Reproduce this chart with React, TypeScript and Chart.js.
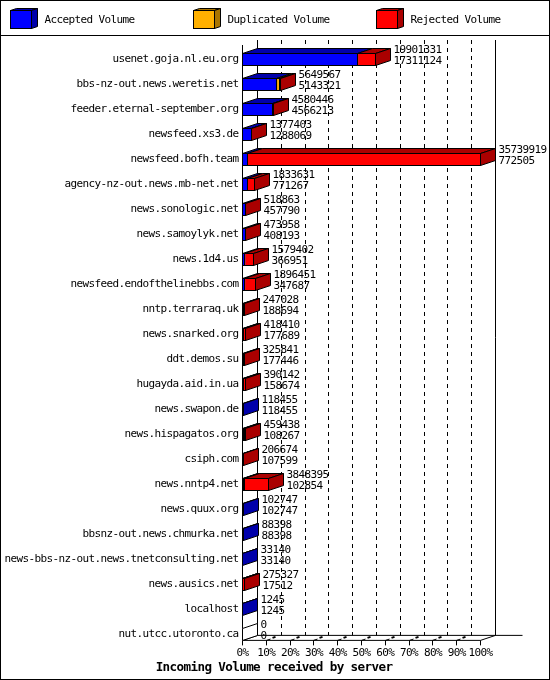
import { useRef, useEffect } from 'react';
import Chart from 'chart.js/auto';

const servers = [
  'usenet.goja.nl.eu.org', 'bbs-nz-out.news.weretis.net', 'feeder.eternal-september.org', 'newsfeed.xs3.de',
  'newsfeed.bofh.team', 'agency-nz-out.news.mb-net.net', 'news.sonologic.net', 'news.samoylyk.net',
  'news.1d4.us', 'newsfeed.endofthelinebbs.com', 'nntp.terraraq.uk', 'news.snarked.org',
  'ddt.demos.su', 'hugayda.aid.in.ua', 'news.swapon.de', 'news.hispagatos.org',
  'csiph.com', 'news.nntp4.net', 'news.quux.org', 'bbsnz-out.news.chmurka.net',
  'news-bbs-nz-out.news.tnetconsulting.net', 'news.ausics.net', 'localhost', 'nut.utcc.utoronto.ca',
];
const totalVolume = [
  19901331, 5649567, 4580446, 1377403, 35739919, 1833631, 518863, 473958,
  1579402, 1896451, 247028, 418410, 325841, 390142, 118455, 459438,
  206674, 3848395, 102747, 88398, 33140, 275327, 1245, 0,
];
const acceptedVolume = [
  17311124, 5143321, 4566213, 1288069, 772505, 771267, 457790, 408193,
  366951, 347687, 188694, 177689, 177446, 158674, 118455, 108267,
  107599, 102854, 102747, 88398, 33140, 17512, 1245, 0,
];
const duplicatedVolume = [
  0, 380000, 0, 0, 0, 0, 0, 0,
  0, 0, 0, 0, 0, 0, 0, 130000,
  0, 140000, 0, 0, 0, 0, 0, 0,
];
const rejectedVolume = [
  2590207, 126246, 14233, 89334, 34967414, 1062364, 61073, 65765,
  1212451, 1548764, 58334, 240721, 148395, 231468, 0, 221171,
  99075, 3605541, 0, 0, 0, 257815, 0, 0,
];

const FONT = '"DejaVu Sans Mono", monospace';
const FRONT = ['#0000ff', '#ffb000', '#ff0000'];
const DARK = ['#0000aa', '#aa7500', '#aa0000'];
const DEPTH_X = 15;
const DEPTH_Y = 5;

// crisp 1px lines
const snap = (v: number) => Math.floor(v) + 0.5;

function poly(ctx: CanvasRenderingContext2D, pts: number[][], fill: string) {
  ctx.beginPath();
  pts.forEach((p, i) => (i ? ctx.lineTo(p[0], p[1]) : ctx.moveTo(p[0], p[1])));
  ctx.closePath();
  ctx.fillStyle = fill;
  ctx.fill();
  ctx.stroke();
}

function line(ctx: CanvasRenderingContext2D, x0: number, y0: number, x1: number, y1: number) {
  ctx.beginPath();
  ctx.moveTo(x0, y0);
  ctx.lineTo(x1, y1);
  ctx.stroke();
}

const volumePlugin = {
  id: 'volume3d',
  afterLayout(chart: any) {
    // the right padding makes room for the 3D depth, the title still centres on the page
    chart.titleBlock.right = 548;
  },
  beforeDraw(chart: any) {
    // the original font is tall and narrow, 6px a character
    chart.ctx.letterSpacing = '-0.62px';
  },
  beforeDatasetsDraw(chart: any) {
    const { ctx, chartArea, scales } = chart;
    const floor = chartArea.bottom - 6.5;
    const left = chartArea.left;
    const right = chartArea.right;
    ctx.save();
    ctx.strokeStyle = '#000';
    ctx.lineWidth = 1;

    // page frame and legend rule
    ctx.strokeRect(0.5, 0.5, 549, 679);
    line(ctx, 0, 35.5, 550, 35.5);

    // legend
    const boxes = [10.5, 193.5, 376.5];
    const texts = [44.5, 227.5, 410.5];
    chart.data.datasets.forEach((ds: any, i: number) => {
      const x = boxes[i];
      poly(ctx, [[x, 10.5], [x + 6, 8.5], [x + 27, 8.5], [x + 21, 10.5]], DARK[i]);
      poly(ctx, [[x + 21, 10.5], [x + 27, 8.5], [x + 27, 26.5], [x + 21, 28.5]], DARK[i]);
      ctx.fillStyle = FRONT[i];
      ctx.fillRect(x, 10.5, 21, 18);
      ctx.strokeRect(x, 10.5, 21, 18);
      ctx.fillStyle = '#000';
      ctx.font = '11px ' + FONT;
      ctx.textAlign = 'left';
      ctx.textBaseline = 'middle';
      ctx.fillText(ds.label, texts[i], 20.5);
    });

    // back wall grid
    ctx.setLineDash([4, 4]);
    scales.x.ticks.forEach((t: any, i: number) => {
      if (i === 0 || i === scales.x.ticks.length - 1) return;
      const x = snap(scales.x.getPixelForValue(t.value) + DEPTH_X);
      line(ctx, x, 40, x, floor - DEPTH_Y);
    });
    ctx.setLineDash([]);

    // walls and floor
    line(ctx, left, 45, left, floor);
    line(ctx, left + DEPTH_X, 40, left + DEPTH_X, floor - DEPTH_Y);
    line(ctx, right + DEPTH_X, 40, right + DEPTH_X, floor - DEPTH_Y);
    line(ctx, left + DEPTH_X, floor - DEPTH_Y, 522.5, floor - DEPTH_Y);
    line(ctx, left, floor, right, floor);
    line(ctx, left, floor, left + DEPTH_X, floor - DEPTH_Y);
    line(ctx, right, floor, right + DEPTH_X, floor - DEPTH_Y);

    // ticks under the floor, each with its short stub towards the back
    scales.x.ticks.forEach((t: any) => {
      const x = snap(scales.x.getPixelForValue(t.value));
      line(ctx, x, floor, x, floor + 5);
      if (t.value > 0 && t.value < scales.x.max * 0.99) {
        line(ctx, x, floor, x + 4, floor - 1.3);
        ctx.lineWidth = 2;
        line(ctx, x + 6, floor - 2.5, x + 9, floor - 3.5);
        ctx.lineWidth = 1;
      }
    });
    ctx.restore();
  },
  afterDatasetsDraw(chart: any) {
    const { ctx } = chart;
    const metas = [0, 1, 2].map((i) => chart.getDatasetMeta(i).data);
    ctx.save();
    ctx.strokeStyle = '#000';
    ctx.lineWidth = 1;
    servers.forEach((_, row) => {
      let lastIdx = -1;
      let top = 0;
      let bottom = 0;
      let endX = 0;
      metas.forEach((bars: any[], i: number) => {
        const el = bars[row];
        top = snap(el.y - el.height / 2);
        bottom = top + 12;
        const x0 = snap(Math.min(el.base, el.x));
        const x1 = snap(Math.max(el.base, el.x));
        endX = x1;
        const value = chart.data.datasets[i].data[row];
        if (!value) return;
        lastIdx = i;
        poly(ctx, [[x0, top], [x0 + DEPTH_X, top - DEPTH_Y], [x1 + DEPTH_X, top - DEPTH_Y], [x1, top]], DARK[i]);
        ctx.strokeRect(x0, top, x1 - x0, bottom - top);
      });
      poly(
        ctx,
        [[endX, top], [endX + DEPTH_X, top - DEPTH_Y], [endX + DEPTH_X, bottom - DEPTH_Y], [endX, bottom]],
        lastIdx < 0 ? '#fff' : DARK[lastIdx],
      );
      ctx.fillStyle = '#000';
      ctx.font = '11px ' + FONT;
      ctx.textAlign = 'left';
      ctx.textBaseline = 'middle';
      const cy = top + 6;
      ctx.fillText(String(totalVolume[row]), endX + DEPTH_X + 3, cy - 9);
      ctx.fillText(String(acceptedVolume[row]), endX + DEPTH_X + 3, cy + 2);
    });
    ctx.restore();
  },
};

export default function App() {
  const chartRef = useRef<HTMLCanvasElement | null>(null);

  useEffect(() => {
    if (!chartRef.current) return;
    const maxVolume = Math.max(...totalVolume);

    const chart = new Chart(chartRef.current, {
      type: 'bar',
      data: {
        labels: servers,
        datasets: [
          { label: 'Accepted Volume', data: acceptedVolume, backgroundColor: FRONT[0] },
          { label: 'Duplicated Volume', data: duplicatedVolume, backgroundColor: FRONT[1] },
          { label: 'Rejected Volume', data: rejectedVolume, backgroundColor: FRONT[2] },
        ],
      },
      options: {
        indexAxis: 'y',
        responsive: false,
        animation: false,
        devicePixelRatio: 1,
        layout: { padding: { top: 47, right: 69.5, left: 0, bottom: 0 } },
        datasets: { bar: { barThickness: 12, borderWidth: 0 } },
        plugins: {
          legend: { display: false },
          tooltip: { enabled: false },
          title: {
            display: true,
            position: 'bottom',
            text: 'Incoming Volume received by server',
            color: '#000',
            font: { family: FONT, size: 12.6, weight: 'bold' },
            padding: { top: 0, bottom: 5 },
          },
        },
        scales: {
          x: {
            stacked: true,
            min: 0,
            max: maxVolume,
            afterFit: (axis: any) => {
              axis.height = 13;
            },
            grid: { display: false, drawTicks: false },
            border: { display: false },
            ticks: {
              stepSize: maxVolume / 10,
              autoSkip: false,
              maxRotation: 0,
              padding: 0,
              color: '#000',
              font: { family: FONT, size: 11 },
              callback: (v: any) => Math.round((Number(v) / maxVolume) * 100) + '%',
            },
          },
          y: {
            stacked: true,
            afterFit: (axis: any) => {
              axis.width = 242.5;
            },
            grid: { display: false, drawTicks: false },
            border: { display: false },
            ticks: {
              autoSkip: false,
              padding: 4,
              color: '#000',
              font: { family: FONT, size: 11 },
            },
          },
        },
      },
      plugins: [volumePlugin],
    });

    return () => chart.destroy();
  }, []);

  return (
    <canvas
      ref={chartRef}
      width={550}
      height={680}
      style={{ position: 'absolute', left: 0, top: 0, background: '#fff' }}
    />
  );
}
